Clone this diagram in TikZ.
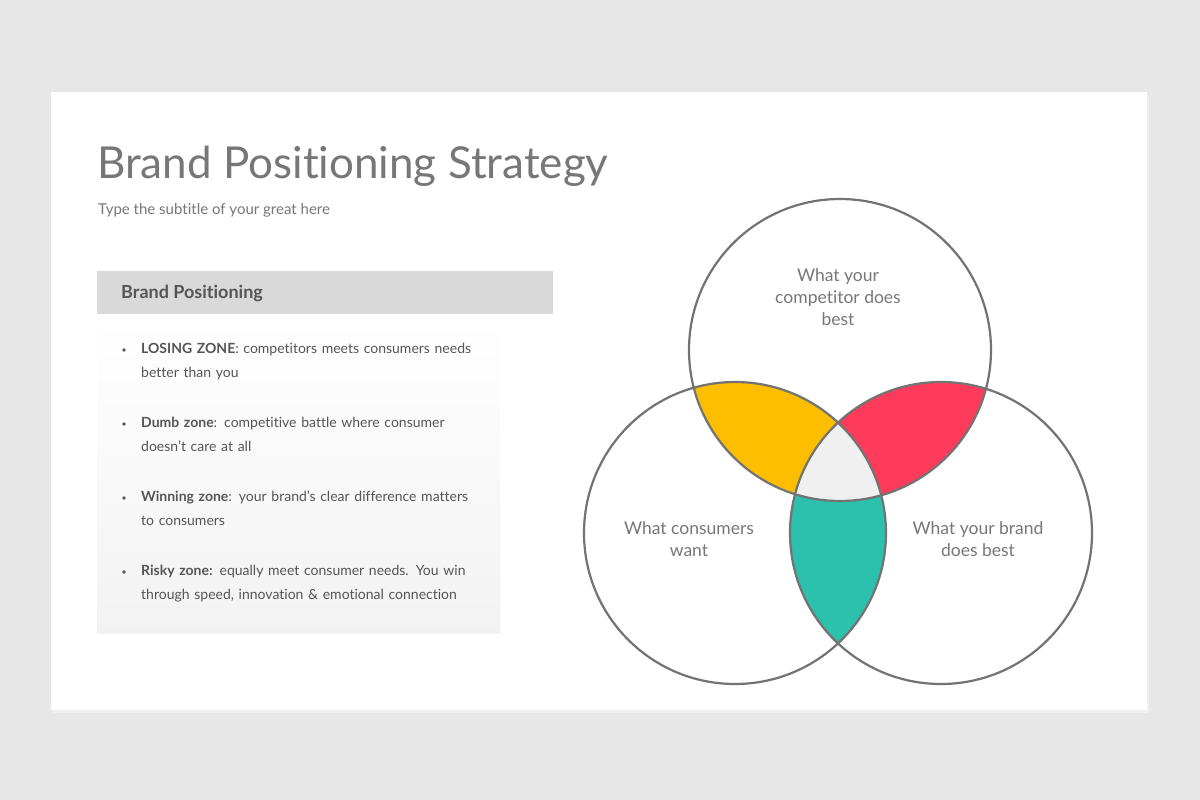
\documentclass[tikz,border=0pt]{standalone}
\usepackage{fontspec}
\setmainfont[Ligatures=NoCommon]{Lato}
\definecolor{bg}{HTML}{E8E7E8}
\definecolor{txt}{HTML}{777777}
\definecolor{body}{HTML}{555555}
\definecolor{ring}{HTML}{737373}
\definecolor{cy}{HTML}{FDBE00}
\definecolor{cr}{HTML}{FF3B5C}
\definecolor{ct}{HTML}{2BC1AD}
\definecolor{cg}{HTML}{F0F0F0}
\begin{document}
\begin{tikzpicture}[x=1pt,y=-1pt,
  bul/.style={anchor=north west,text width=340pt,align=left,font=\fontsize{14}{24}\selectfont,text=body,inner sep=0pt},
  lab/.style={align=center,font=\fontsize{17.5}{22}\selectfont,text=txt}]
\useasboundingbox (0,0) rectangle (1200,800);
\fill[bg] (0,0) rectangle (1200,800);
\fill[black!6] (53,95) rectangle (1149,713);
\fill[white] (51,92) rectangle (1147,710);
\node[anchor=base west,inner sep=0pt,text=txt,font=\fontsize{44}{50}\selectfont] (title) at (97,178) {Brand Positioning Strategy};
\node[anchor=base west,inner sep=0pt,text=txt,font=\fontsize{15}{18}\selectfont] (sub) at (98,214) {Type the subtitle of your great here};
\fill[black!15] (97,271) rectangle (553,314);
\node[anchor=west,inner sep=0pt,text=body,font=\bfseries\fontsize{18}{20}\selectfont] (hdr) at (121,293) {Brand Positioning};
\shade[top color=white,bottom color=black!5] (97,318) rectangle (500,633);
\foreach \y/\t [count=\i] in {343/{\textbf{LOSING ZONE}: competitors meets consumers needs\\better than you},
  417/{\textbf{Dumb zone}: competitive battle where consumer\\doesn’t care at all},
  491/{\textbf{Winning zone}: your brand’s clear difference matters\\to consumers},
  565/{\textbf{Risky zone:} equally meet consumer needs. You win\\through speed, innovation \& emotional connection}}{
  \node[bul] (b\i) at (141,\y) {\t};
  \fill[body] (124,\y+7) circle (1.8);
}
\coordinate (T) at (840,350);
\coordinate (L) at (735,533);
\coordinate (R) at (941,533);
\def\rr{151}
\begin{scope}\clip (T) circle (\rr); \clip (L) circle (\rr); \fill[cy] (T) circle (\rr);\end{scope}
\begin{scope}\clip (T) circle (\rr); \clip (R) circle (\rr); \fill[cr] (T) circle (\rr);\end{scope}
\begin{scope}\clip (L) circle (\rr); \clip (R) circle (\rr); \fill[ct] (L) circle (\rr);\end{scope}
\begin{scope}\clip (L) circle (\rr); \clip (R) circle (\rr); \clip (T) circle (\rr); \fill[cg] (L) circle (\rr);\end{scope}
\foreach \c in {T,L,R} \draw[ring,line width=2.2pt] (\c) circle (\rr);
\node[lab] (lt) at (838,297) {What your\\competitor does\\best};
\node[lab] (ll) at (689,539) {What consumers\\want};
\node[lab] (lr) at (978,539) {What your brand\\does best};
\end{tikzpicture}
\end{document}
